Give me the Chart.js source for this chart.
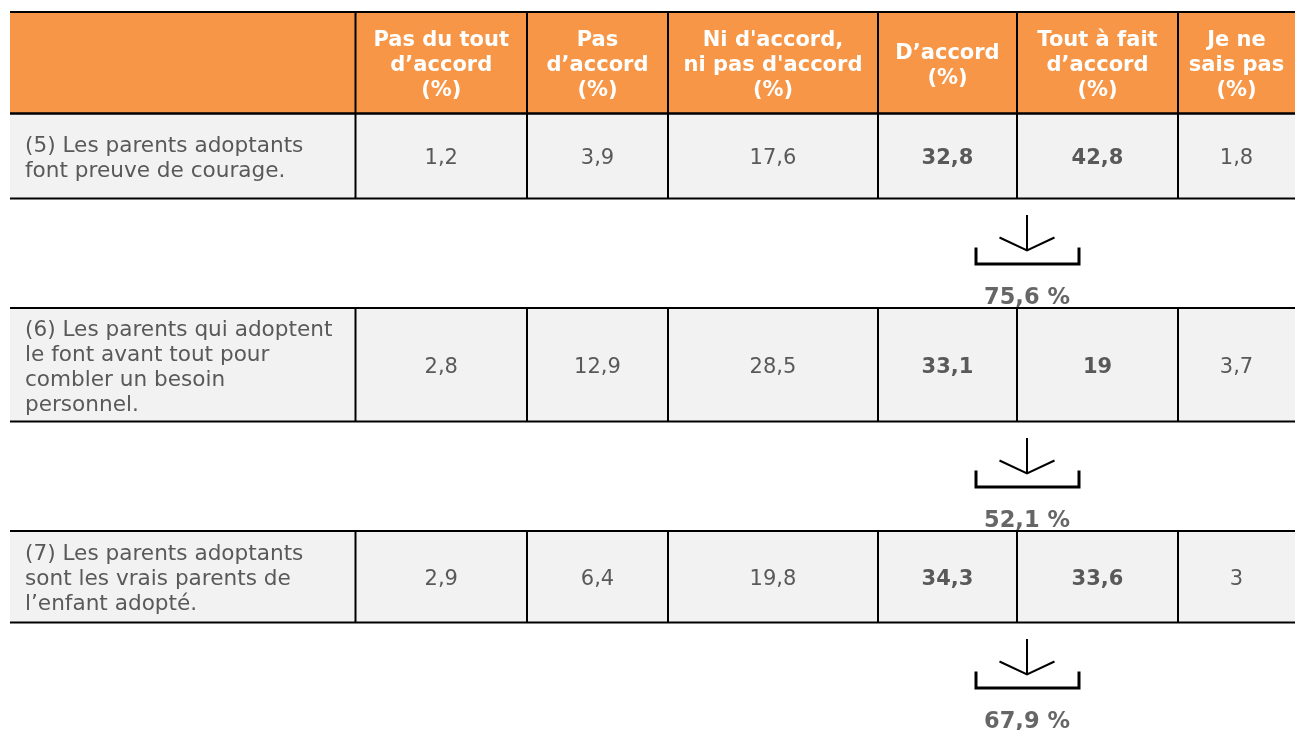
<!DOCTYPE html>
<html lang="fr">
<head>
<meta charset="utf-8">
<script src="https://cdn.jsdelivr.net/npm/chart.js@4.4.1/dist/chart.umd.min.js"></script>
<style>
html, body { margin: 0; padding: 0; background: #fff; }
#wrap { width: 1295px; height: 730px; }
</style>
</head>
<body>
<div id="wrap"><canvas id="tbl" width="1295" height="730"></canvas></div>
<script>
'use strict';

const COLUMNS = [
  ['Pas du tout', 'd’accord', '(%)'],
  ['Pas', 'd’accord', '(%)'],
  ["Ni d'accord,", "ni pas d'accord", '(%)'],
  ['D’accord', '(%)'],
  ['Tout à fait', 'd’accord', '(%)'],
  ['Je ne', 'sais pas', '(%)'],
];
const STATEMENTS = [
  ['(5) Les parents adoptants', 'font preuve de courage.'],
  ['(6) Les parents qui adoptent', 'le font avant tout pour', 'combler un besoin', 'personnel.'],
  ['(7) Les parents adoptants', 'sont les vrais parents de', 'l’enfant adopté.'],
];
const Q5 = [1.2, 3.9, 17.6, 32.8, 42.8, 1.8];
const Q6 = [2.8, 12.9, 28.5, 33.1, 19, 3.7];
const Q7 = [2.9, 6.4, 19.8, 34.3, 33.6, 3];
const AGREE_TOTALS = [75.6, 52.1, 67.9];
const BOLD_COLS = [3, 4];

// layout, in units of the x / y scales
const COL_EDGES = [10, 355.5, 527, 668, 878, 1017, 1178, 1295];
const HEAD_TOP = 12, HEAD_H = 101.5;
const ROW_H = [85, 113.5, 91.5];
const GAP_H = 109.5;
const LINE_H = 25;
const TEXT_DY = 3;

const ORANGE = '#F79646', GREY_BG = '#F2F2F2', TXT = '#595959';
const FONT = '"DejaVu Sans", Verdana, sans-serif';

const rowTops = [];
(function() {
  let y = HEAD_TOP + HEAD_H;
  ROW_H.forEach(h => { rowTops.push(y); y += h + GAP_H; });
})();
const colMid = j => (COL_EDGES[j] + COL_EDGES[j + 1]) / 2;
const rowMid = i => rowTops[i] + ROW_H[i] / 2;
const fmt = v => String(v).replace('.', ',');

const series = [Q5, Q6, Q7];

function multiline(ctx, lines, x, cy) {
  const y0 = cy - (lines.length - 1) * LINE_H / 2;
  lines.forEach((l, k) => ctx.fillText(l, x, y0 + k * LINE_H));
}

const tablePlugin = {
  id: 'tableCells',
  beforeDatasetsDraw(chart) {
    const { ctx, scales: { x, y } } = chart;
    const xl = x.getPixelForValue(COL_EDGES[0]), xr = x.getPixelForValue(COL_EDGES[7]);
    ctx.save();
    ctx.fillStyle = ORANGE;
    ctx.fillRect(xl, y.getPixelForValue(HEAD_TOP), xr - xl,
      y.getPixelForValue(HEAD_TOP + HEAD_H) - y.getPixelForValue(HEAD_TOP));
    ctx.fillStyle = GREY_BG;
    rowTops.forEach((t, i) => {
      ctx.fillRect(xl, y.getPixelForValue(t), xr - xl,
        y.getPixelForValue(t + ROW_H[i]) - y.getPixelForValue(t));
    });
    ctx.restore();
  },
  afterDatasetsDraw(chart) {
    const { ctx, scales: { x, y } } = chart;
    const xl = x.getPixelForValue(COL_EDGES[0]), xr = x.getPixelForValue(COL_EDGES[7]);
    ctx.save();
    // grid lines
    ctx.strokeStyle = '#000';
    ctx.lineWidth = 2;
    const hline = v => { const p = y.getPixelForValue(v); ctx.beginPath(); ctx.moveTo(xl, p); ctx.lineTo(xr, p); ctx.stroke(); };
    const vlines = (t, b) => {
      for (let j = 1; j < COL_EDGES.length - 1; j++) {
        const p = x.getPixelForValue(COL_EDGES[j]);
        ctx.beginPath(); ctx.moveTo(p, y.getPixelForValue(t)); ctx.lineTo(p, y.getPixelForValue(b)); ctx.stroke();
      }
    };
    hline(HEAD_TOP); hline(HEAD_TOP + HEAD_H);
    vlines(HEAD_TOP, HEAD_TOP + HEAD_H);
    rowTops.forEach((t, i) => { hline(t); hline(t + ROW_H[i]); vlines(t, t + ROW_H[i]); });

    // header text
    ctx.fillStyle = '#fff';
    ctx.font = 'bold 21px ' + FONT;
    ctx.textAlign = 'center';
    ctx.textBaseline = 'middle';
    COLUMNS.forEach((c, j) => multiline(ctx, c, x.getPixelForValue(colMid(j + 1)),
      y.getPixelForValue(HEAD_TOP + HEAD_H / 2 + TEXT_DY)));

    // statements
    ctx.fillStyle = TXT;
    ctx.font = '21.6px ' + FONT;
    ctx.textAlign = 'left';
    STATEMENTS.forEach((s, i) => multiline(ctx, s, x.getPixelForValue(COL_EDGES[0] + 15),
      y.getPixelForValue(rowMid(i) + TEXT_DY)));

    // values, placed by the dataset points
    ctx.textAlign = 'center';
    chart.data.datasets.forEach((ds, i) => {
      chart.getDatasetMeta(i).data.forEach((pt, j) => {
        ctx.font = (BOLD_COLS.includes(j) ? 'bold ' : '') + '21px ' + FONT;
        ctx.fillText(fmt(series[i][j]), pt.x, pt.y + TEXT_DY);
      });
    });

    // brackets with agree totals
    AGREE_TOTALS.forEach((tot, i) => {
      const top = rowTops[i] + ROW_H[i];
      const cx = x.getPixelForValue(COL_EDGES[5] + 10);
      const py = v => y.getPixelForValue(top + v);
      ctx.strokeStyle = '#000';
      ctx.lineWidth = 2;
      ctx.beginPath();
      ctx.moveTo(cx, py(16.5)); ctx.lineTo(cx, py(52));
      ctx.moveTo(cx - 27.5, py(39)); ctx.lineTo(cx, py(52)); ctx.lineTo(cx + 27.5, py(39));
      ctx.stroke();
      ctx.lineWidth = 3;
      ctx.lineJoin = 'miter';
      ctx.beginPath();
      ctx.moveTo(cx - 51, py(49)); ctx.lineTo(cx - 51, py(65.5));
      ctx.lineTo(cx + 52, py(65.5)); ctx.lineTo(cx + 52, py(49));
      ctx.stroke();
      ctx.fillStyle = '#666';
      ctx.font = 'bold 22.5px ' + FONT;
      ctx.fillText(fmt(tot) + ' %', cx, py(97.5 + 2));
    });
    ctx.restore();
  }
};

new Chart(document.getElementById('tbl'), {
  type: 'scatter',
  data: {
    datasets: series.map((vals, i) => ({
      label: STATEMENTS[i][0],
      data: vals.map((v, j) => ({ x: colMid(j + 1), y: rowMid(i) })),
      pointRadius: 0,
      pointHoverRadius: 0,
    }))
  },
  options: {
    responsive: false,
    animation: false,
    layout: { padding: 0 },
    events: [],
    plugins: { legend: { display: false }, tooltip: { enabled: false } },
    scales: {
      x: { type: 'linear', min: 0, max: 1295, display: false },
      y: { type: 'linear', min: 0, max: 730, reverse: true, display: false }
    }
  },
  plugins: [tablePlugin]
});
</script>
</body>
</html>
